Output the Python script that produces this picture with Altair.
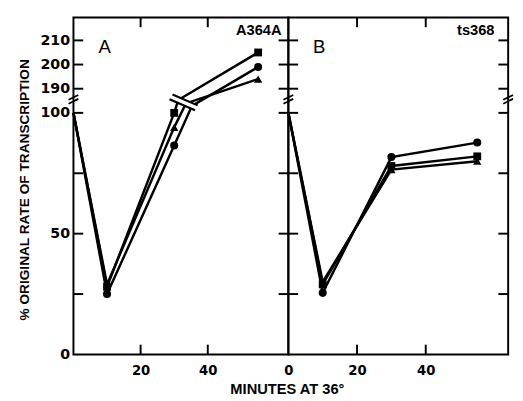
import altair as alt
import pandas as pd

# ---------------- values ----------------
minutes = [0, 10, 30, 55]

# Panel A (A364A)
a_square = [100, 28, 100, 205]
a_circle = [100, 25, 86.5, 199]
a_triangle = [100, 29, 94, 194]

# Panel B (ts368)
b_square = [100, 29, 78, 82]
b_circle = [100, 25.5, 81.7, 87.7]
b_triangle = [100, 30, 76.5, 80]

# where each panel-A line crosses the "//" break drawn across the lines (axis units)
a_break_series = ["square", "triangle", "circle"]
a_break_minutes = [31.2, 33.5, 35.3]
a_break_values = [105.3, 103.9, 102.9]

# "//" across the lines in panel A (two slashes, plus white gap between them)
a_slash_x1 = [29.5, 28.6]
a_slash_x2 = [37.0, 36.2]
a_slash_y1 = [107.6, 105.6]
a_slash_y2 = [103.1, 101.1]
a_gap_x = [29.3, 36.4]
a_gap_y = [106.5, 102.2]

y_tick_labels = [0, 50, 100, 190, 200, 210]
y_ticks = [25, 50, 75, 100, 190, 200, 210]
x_ticks = [20, 40]
a_x_labels = [20, 40]
b_x_labels = [0, 20, 40]
axis_break_y1 = [103.8, 105.4]
axis_break_y2 = [105.8, 107.4]

BREAK_FROM = 190
BREAK_SHIFT = 80  # 190 is drawn where 110 would be


def pos(v):
    return v - BREAK_SHIFT if v >= BREAK_FROM else v


H = 345
WA = 220
WB = 225
TICK = 10
LINE_W = 2.5

yscale = alt.Scale(domain=[0, 139.5], nice=False, zero=False)
xscale = alt.Scale(domain=[0, 64], nice=False, zero=False)

shape_scale = alt.Scale(domain=["square", "circle", "triangle"],
                        range=["square", "circle", "triangle-up"])
size_scale = alt.Scale(domain=["square", "circle", "triangle"], range=[64, 72, 100])


def series_df(sq, ci, tr):
    rows = []
    for name, vals in (("square", sq), ("circle", ci), ("triangle", tr)):
        for m, v in zip(minutes, vals):
            rows.append({"x": m, "y": pos(v), "series": name})
    return pd.DataFrame(rows)


def panel(pts, W, x_labels, y_axis, extra_lines=None, extra_layers=(), texts=()):
    xaxis = alt.Axis(values=x_labels, title=None, ticks=False, tickSize=0,
                     domain=False, grid=False, labelFont="DejaVu Sans",
                     labelFontSize=13.5, labelFontWeight="bold", labelPadding=10,
                     labelColor="black", labelFlush=False)
    X = alt.X("x:Q", scale=xscale, axis=xaxis)
    Y = alt.Y("y:Q", scale=yscale, axis=y_axis)

    line_data = pts if extra_lines is None else pd.concat([pts, extra_lines])
    lines = alt.Chart(line_data).mark_line(color="black", strokeWidth=LINE_W).encode(
        x=X, y=Y, detail="series:N", order="x:Q")
    marker_data = pts[pts["x"] > 0]
    points = alt.Chart(marker_data).mark_point(filled=True, color="black", opacity=1).encode(
        x=X, y=Y,
        shape=alt.Shape("series:N", scale=shape_scale, legend=None),
        size=alt.Size("series:N", scale=size_scale, legend=None))

    ydf = pd.DataFrame({"y": [pos(v) for v in y_ticks]})
    xdf = pd.DataFrame({"x": x_ticks})
    ticks_l = alt.Chart(ydf).mark_rule(color="black", strokeWidth=2).encode(
        y=Y, x=alt.value(0), x2=alt.value(TICK))
    ticks_r = alt.Chart(ydf).mark_rule(color="black", strokeWidth=2).encode(
        y=Y, x=alt.value(W - TICK), x2=alt.value(W))
    ticks_b = alt.Chart(xdf).mark_rule(color="black", strokeWidth=2).encode(
        x=X, y=alt.value(H), y2=alt.value(H - TICK))
    ticks_t = alt.Chart(xdf).mark_rule(color="black", strokeWidth=2).encode(
        x=X, y=alt.value(0), y2=alt.value(TICK))

    layers = [ticks_l, ticks_r, ticks_b, ticks_t, lines] + list(extra_layers) + [points] + list(texts)
    return alt.layer(*layers).properties(width=W, height=H)


def axis_break(Y, xpix):
    bdf = pd.DataFrame({"y": axis_break_y1, "y2": axis_break_y2})
    return alt.Chart(bdf).mark_rule(color="black", strokeWidth=1.8).encode(
        y=Y, y2="y2:Q", x=alt.value(xpix - 5), x2=alt.value(xpix + 5))


def text_layer(txt, x, y, size, weight="normal", align="center", angle=0, font="Liberation Sans",
               baseline="alphabetic"):
    kw = dict(text=txt, fontSize=size, fontWeight=weight, align=align, font=font,
              baseline=baseline, color="black")
    if angle:
        kw["angle"] = angle
    return alt.Chart(pd.DataFrame({"t": [txt]})).mark_text(**kw).encode(
        x=alt.value(x), y=alt.value(y))


# ---------- panel A ----------
pts_a = series_df(a_square, a_circle, a_triangle)
brk_a = pd.DataFrame({"x": a_break_minutes, "y": a_break_values, "series": a_break_series})

yaxis_a = alt.Axis(values=[pos(v) for v in y_tick_labels],
                   labelExpr="datum.value > 100 ? datum.value + %d : datum.value" % BREAK_SHIFT,
                   title=None, ticks=False, tickSize=0, domain=False, grid=False,
                   labelFont="DejaVu Sans", labelFontSize=14.5, labelFontWeight="bold",
                   labelPadding=4, labelColor="black", labelFlush=False)
YA = alt.Y("y:Q", scale=yscale, axis=yaxis_a)
XA = alt.X("x:Q", scale=xscale)

gap = alt.Chart(pd.DataFrame({"x": [a_gap_x[0]], "x2": [a_gap_x[1]],
                              "y": [a_gap_y[0]], "y2": [a_gap_y[1]]})).mark_rule(
    color="white", strokeWidth=4.5).encode(x=XA, x2="x2:Q", y=YA, y2="y2:Q")
slashes = alt.Chart(pd.DataFrame({"x": a_slash_x1, "x2": a_slash_x2,
                                  "y": a_slash_y1, "y2": a_slash_y2})).mark_rule(
    color="black", strokeWidth=2.2).encode(x=XA, x2="x2:Q", y=YA, y2="y2:Q")

panel_a = panel(
    pts_a, WA, a_x_labels, yaxis_a, extra_lines=brk_a,
    extra_layers=[gap, slashes, axis_break(YA, 0)],
    texts=[
        text_layer("A", 32, 36, 19),
        text_layer("A364A", WA - 7, 18, 15, weight="bold", align="right"),
        text_layer("% ORIGINAL RATE OF TRANSCRIPTION", -50, 176.5, 14, weight="bold",
                   angle=270, baseline="middle"),
        text_layer("MINUTES AT 36°", WA - 1, H + 40, 15, weight="bold"),
    ])

# ---------- panel B ----------
pts_b = series_df(b_square, b_circle, b_triangle)
YB = alt.Y("y:Q", scale=yscale, axis=None)
panel_b = panel(
    pts_b, WB, b_x_labels, None,
    extra_layers=[axis_break(YB, 0), axis_break(YB, WB)],
    texts=[
        text_layer("B", 31.5, 36, 19),
        text_layer("ts368", WB - 14, 18, 15, weight="bold", align="right"),
    ])

chart = alt.hconcat(panel_a, panel_b, spacing=0, bounds="flush").resolve_scale(
    x="independent", y="shared"
).properties(
    padding={"left": 8, "top": 3, "right": 0, "bottom": 0},
    background="white",
).configure_view(stroke="black", strokeWidth=2)

chart.save("out.html", embed_options={"renderer": "svg", "actions": False})
